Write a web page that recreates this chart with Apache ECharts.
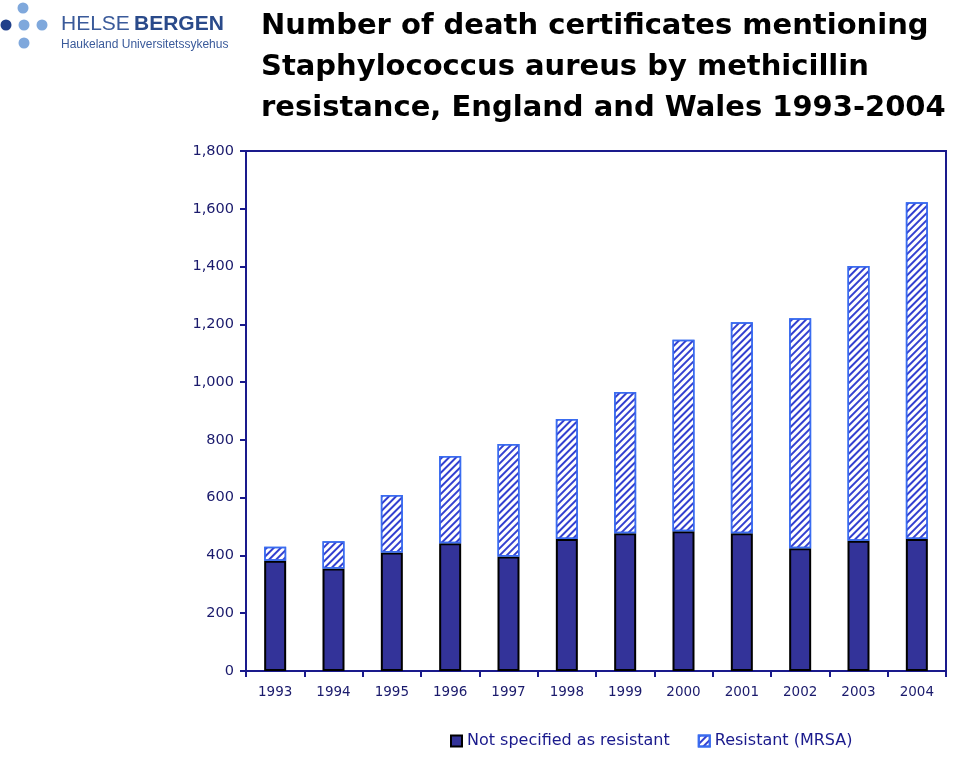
<!DOCTYPE html>
<html><head><meta charset="utf-8">
<script src="https://cdn.jsdelivr.net/npm/echarts@6/dist/echarts.min.js"></script>
<style>html,body{margin:0;padding:0;background:#fff}#c{width:960px;height:759px}</style>
</head><body><div id="c"></div>
<script>
const years = ['1993','1994','1995','1996','1997','1998','1999','2000','2001','2002','2003','2004'];
const notSpecified = [382,355,410,442,396,457,477,484,477,425,451,457];
const resistant = [48,94,199,302,390,415,489,663,730,796,951,1166];
const seriesNames = ['Not specified as resistant','Resistant (MRSA)'];
const titleLines = ['Number of death certificates mentioning','Staphylococcus aureus by methicillin','resistance, England and Wales 1993-2004'];

const chart = echarts.init(document.getElementById('c'));
const hatch = {symbol:'rect', symbolSize:1, dashArrayX:[1,0], dashArrayY:[2,3], rotation:-Math.PI/4, color:'#3340d0'};
const axisFont = 'DejaVu Sans';
chart.setOption({
  animation:false,
  title:{text:titleLines.join('\n'), left:256, top:1,
    textStyle:{fontFamily:'DejaVu Sans', fontWeight:'bold', fontSize:29, color:'#000', lineHeight:41}},
  grid:{left:246, right:14, top:151, bottom:88, show:true, borderColor:'#1a1a8c', borderWidth:2},
  legend:{bottom:5, left:445, itemWidth:11, itemHeight:11, itemGap:28,
    textStyle:{fontFamily:axisFont, fontSize:16, color:'#1a1a8c'},
    data:[{name:seriesNames[0], icon:'rect'},{name:seriesNames[1], icon:'rect'}]},
  xAxis:{type:'category', data:years,
    axisLine:{lineStyle:{color:'#1a1a8c', width:2}},
    axisTick:{show:true, length:6, lineStyle:{color:'#1a1a8c', width:2}},
    axisLabel:{color:'#1a1a6c', fontFamily:axisFont, fontSize:13.5, margin:14}},
  yAxis:{type:'value', min:0, max:1800, interval:200,
    axisLine:{show:true, lineStyle:{color:'#1a1a8c', width:2}},
    axisTick:{show:true, length:6, lineStyle:{color:'#1a1a8c', width:2}},
    splitLine:{show:false},
    axisLabel:{color:'#1a1a6c', fontFamily:axisFont, fontSize:14.5, margin:12,
      formatter:v=>v.toLocaleString('en-US')}},
  series:[
    {name:seriesNames[0], type:'bar', stack:'a', data:notSpecified, barWidth:22,
      itemStyle:{color:'#333399', borderColor:'#000', borderWidth:2}},
    {name:seriesNames[1], type:'bar', stack:'a', data:resistant, barWidth:22,
      itemStyle:{color:'#fff', borderColor:'#3a6cf0', borderWidth:1.5, decal:hatch}}
  ],
  graphic:[
    {type:'circle', shape:{cx:23,cy:8,r:5.5}, style:{fill:'#7fa8dc'}},
    {type:'circle', shape:{cx:6,cy:25,r:5.5}, style:{fill:'#1f3f8a'}},
    {type:'circle', shape:{cx:24,cy:25,r:5.5}, style:{fill:'#7fa8dc'}},
    {type:'circle', shape:{cx:42,cy:25,r:5.5}, style:{fill:'#7fa8dc'}},
    {type:'circle', shape:{cx:24,cy:43,r:5.5}, style:{fill:'#7fa8dc'}},
    {type:'text', left:61, top:14, style:{text:'HELSE', fill:'#3a5a9a', font:'21px Liberation Sans, Arial'}},
    {type:'text', left:134, top:14, style:{text:'BERGEN', fill:'#2a4a8a', font:'bold 21px Liberation Sans, Arial'}},
    {type:'text', left:61, top:39, style:{text:'Haukeland Universitetssykehus', fill:'#3a5a9a', font:'12px Liberation Sans, Arial'}}
  ]
});
</script></body></html>
